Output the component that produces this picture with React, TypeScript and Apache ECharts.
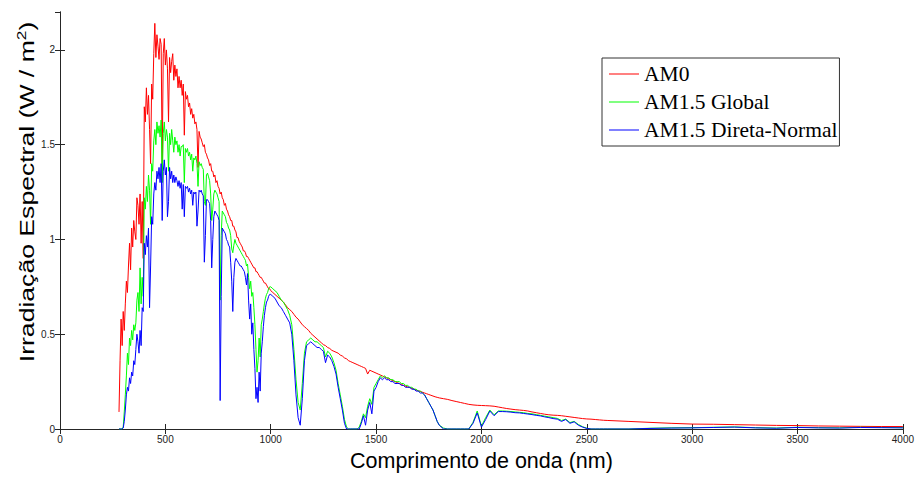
import React, { useEffect, useRef } from "react";
import * as echarts from "echarts";

// Wavelength grid (nm)
const wavelength = [
  280, 285, 290, 295, 300, 305, 310, 315, 320, 325,
  330, 335, 340, 345, 350, 355, 360, 365, 370, 375,
  380, 385, 390, 395, 400, 405, 410, 415, 420, 425,
  430, 435, 440, 445, 450, 455, 460, 465, 470, 475,
  480, 485, 490, 495, 500, 505, 510, 515, 520, 525,
  530, 535, 540, 545, 550, 555, 560, 565, 570, 575,
  580, 585, 590, 595, 600, 605, 610, 615, 620, 625,
  630, 635, 640, 645, 650, 655, 660, 665, 670, 675,
  680, 685, 690, 695, 700,
  705, 710, 715, 720, 725, 730, 735, 740, 745, 750,
  755, 760, 765, 770, 775, 780, 785, 790, 795, 800,
  805, 810, 815, 820, 825, 830, 835, 840, 845, 850,
  855, 860, 865, 870, 875, 880, 885, 890, 895, 900,
  905, 910, 915, 920, 925, 930, 935, 940, 945, 950,
  955, 960, 965, 970, 975, 980, 985, 990, 995, 1000,
  1010, 1020, 1030, 1040, 1050, 1060, 1070, 1080, 1090, 1100,
  1110, 1120, 1130, 1140, 1150, 1160, 1170, 1180, 1190, 1200,
  1210, 1220, 1230, 1240, 1250, 1260, 1270, 1280, 1290, 1300,
  1310, 1320, 1330, 1340, 1350, 1360, 1370, 1380, 1390, 1400,
  1410, 1420, 1430, 1440, 1450, 1460, 1470, 1480, 1490, 1500,
  1510, 1520, 1530, 1540, 1550, 1560, 1570, 1580, 1590, 1600,
  1610, 1620, 1630, 1640, 1650, 1660, 1670, 1680, 1690, 1700,
  1710, 1720, 1730, 1740, 1750, 1760, 1770, 1780, 1790, 1800,
  1820, 1840, 1860, 1880, 1900, 1920, 1940, 1960, 1980, 2000,
  2020, 2040, 2060, 2080, 2100, 2120, 2140, 2160, 2180, 2200,
  2220, 2240, 2260, 2280, 2300, 2320, 2340, 2360, 2380, 2400,
  2420, 2440, 2460, 2480, 2500, 2520, 2540, 2560, 2580, 2600,
  2700, 2800, 2900, 3000, 3100, 3200, 3300, 3400, 3500, 3600,
  3700, 3800, 3900, 4000,
];

// AM0 spectral irradiance (W/m²/nm)
const am0 = [
  0.09, 0.36, 0.58, 0.44, 0.62, 0.52, 0.66, 0.78, 0.72, 0.86,
  0.98, 0.84, 1.06, 0.96, 1.10, 1.04, 1.00, 1.22, 1.18, 1.08,
  1.24, 0.98, 1.20, 0.90, 1.70, 1.62, 1.80, 1.66, 1.76, 1.58,
  1.40, 1.82, 1.74, 1.98, 2.14, 1.96, 2.08, 2.02, 1.95, 2.06,
  2.03, 1.40, 1.98, 2.06, 1.92, 2.00, 1.90, 1.62, 1.96, 1.88,
  1.94, 1.98, 1.84, 1.92, 1.86, 1.90, 1.80, 1.86, 1.80, 1.84,
  1.76, 1.82, 1.55, 1.78, 1.74, 1.76, 1.70, 1.72, 1.66, 1.69,
  1.64, 1.66, 1.61, 1.62, 1.58, 1.38, 1.57, 1.54, 1.53, 1.51,
  1.49, 1.50, 1.46, 1.45, 1.43,
  1.42, 1.39, 1.40, 1.36, 1.36, 1.33, 1.34, 1.30, 1.31, 1.28,
  1.27, 1.24, 1.25, 1.22, 1.21, 1.18, 1.19, 1.16, 1.15, 1.13,
  1.12, 1.10, 1.10, 1.07, 1.07, 1.05, 1.04, 1.01, 1.01, 0.99,
  0.98, 0.97, 0.96, 0.94, 0.94, 0.93, 0.91, 0.91, 0.90, 0.89,
  0.88, 0.87, 0.86, 0.85, 0.85, 0.83, 0.83, 0.82, 0.81, 0.80,
  0.80, 0.79, 0.78, 0.77, 0.77, 0.76, 0.75, 0.74, 0.74, 0.73,
  0.72, 0.71, 0.70, 0.69, 0.68, 0.67, 0.655, 0.64, 0.63, 0.62,
  0.605, 0.59, 0.58, 0.565, 0.55, 0.54, 0.53, 0.52, 0.505, 0.495,
  0.485, 0.475, 0.465, 0.455, 0.445, 0.44, 0.43, 0.425, 0.415, 0.41,
  0.405, 0.40, 0.39, 0.385, 0.375, 0.37, 0.36, 0.355, 0.35, 0.345,
  0.34, 0.335, 0.33, 0.325, 0.32, 0.29, 0.31, 0.305, 0.30, 0.295,
  0.29, 0.285, 0.28, 0.275, 0.27, 0.265, 0.26, 0.255, 0.25, 0.245,
  0.24, 0.235, 0.23, 0.226, 0.222, 0.218, 0.214, 0.21, 0.206, 0.202,
  0.198, 0.194, 0.19, 0.186, 0.182, 0.178, 0.174, 0.17, 0.167, 0.164,
  0.160, 0.156, 0.150, 0.145, 0.140, 0.135, 0.130, 0.127, 0.125, 0.124,
  0.123, 0.122, 0.120, 0.116, 0.112, 0.108, 0.105, 0.102, 0.100, 0.098,
  0.095, 0.090, 0.086, 0.082, 0.078, 0.075, 0.073, 0.072, 0.070, 0.067,
  0.064, 0.061, 0.058, 0.055, 0.053, 0.052, 0.050, 0.048, 0.046, 0.045,
  0.040, 0.035, 0.030, 0.026, 0.025, 0.023, 0.021, 0.019, 0.018, 0.016,
  0.015, 0.014, 0.013, 0.013,
];

// AM1.5 Global
const am15Global = [
  0, 0, 0, 0, 0.01, 0.09, 0.18, 0.28, 0.40, 0.34,
  0.48, 0.44, 0.52, 0.47, 0.55, 0.52, 0.56, 0.68, 0.72, 0.62,
  0.85, 0.66, 0.80, 0.70, 1.22, 1.16, 1.28, 1.20, 1.34, 1.26,
  1.08, 1.40, 1.36, 1.52, 1.58, 1.50, 1.62, 1.56, 1.60, 1.54,
  1.63, 1.30, 1.56, 1.62, 1.52, 1.58, 1.54, 1.36, 1.56, 1.50,
  1.58, 1.52, 1.46, 1.54, 1.50, 1.52, 1.46, 1.50, 1.44, 1.49,
  1.49, 1.50, 1.30, 1.48, 1.46, 1.48, 1.44, 1.46, 1.42, 1.45,
  1.36, 1.43, 1.42, 1.44, 1.40, 1.28, 1.41, 1.39, 1.40, 1.38,
  1.37, 1.20, 1.18, 1.34, 1.35,
  1.33, 1.31, 1.24, 1.10, 1.16, 1.24, 1.26, 1.25, 1.24, 1.22,
  1.20, 0.68, 1.02, 1.15, 1.14, 1.13, 1.12, 1.09, 1.08, 1.06,
  1.05, 1.02, 0.95, 0.93, 0.97, 1.00, 0.98, 0.97, 0.96, 0.95,
  0.94, 0.93, 0.92, 0.91, 0.90, 0.89, 0.86, 0.87, 0.80, 0.74,
  0.78, 0.70, 0.72, 0.64, 0.55, 0.42, 0.30, 0.36, 0.48, 0.38,
  0.55, 0.58, 0.62, 0.66, 0.69, 0.71, 0.72, 0.74, 0.75, 0.75,
  0.74, 0.73, 0.72, 0.70, 0.68, 0.67, 0.65, 0.63, 0.60, 0.55,
  0.42, 0.26, 0.14, 0.10, 0.24, 0.40, 0.46, 0.47, 0.48, 0.47,
  0.46, 0.46, 0.45, 0.44, 0.43, 0.38, 0.41, 0.40, 0.38, 0.35,
  0.31, 0.24, 0.18, 0.12, 0.05, 0.01, 0, 0, 0, 0,
  0, 0.01, 0.04, 0.08, 0.06, 0.12, 0.16, 0.13, 0.22, 0.24,
  0.26, 0.28, 0.27, 0.28, 0.27, 0.27, 0.26, 0.26, 0.25, 0.25,
  0.25, 0.24, 0.24, 0.23, 0.23, 0.22, 0.22, 0.21, 0.21, 0.20,
  0.20, 0.19, 0.18, 0.16, 0.14, 0.12, 0.10, 0.07, 0.04, 0.02,
  0.005, 0, 0, 0, 0, 0, 0, 0.035, 0.095, 0.015,
  0.06, 0.10, 0.075, 0.095, 0.095, 0.094, 0.092, 0.090, 0.088, 0.086,
  0.082, 0.080, 0.076, 0.072, 0.068, 0.064, 0.060, 0.056, 0.045, 0.052,
  0.034, 0.040, 0.024, 0.012, 0.004, 0, 0, 0, 0, 0,
  0, 0.004, 0.006, 0.007, 0.009, 0.011, 0.007, 0.005, 0.009, 0.007,
  0.006, 0.009, 0.008, 0.007,
];

// AM1.5 Direct-Normal
const am15Direct = [
  0, 0, 0, 0, 0.005, 0.04, 0.10, 0.18, 0.22, 0.20,
  0.27, 0.24, 0.30, 0.28, 0.36, 0.34, 0.42, 0.50, 0.46, 0.40,
  0.52, 0.44, 0.64, 0.62, 0.98, 0.92, 1.02, 0.96, 1.06, 0.64,
  0.86, 1.12, 1.08, 1.24, 1.30, 1.26, 1.36, 1.32, 1.38, 1.30,
  1.40, 1.10, 1.36, 1.42, 1.34, 1.38, 1.12, 1.20, 1.38, 1.32,
  1.36, 1.30, 1.34, 1.30, 1.33, 1.31, 1.28, 1.31, 1.27, 1.30,
  1.16, 1.29, 1.12, 1.28, 1.27, 1.28, 1.25, 1.27, 1.24, 1.26,
  1.18, 1.25, 1.24, 1.25, 1.07, 1.15, 1.26, 1.25, 1.26, 1.24,
  1.23, 0.88, 1.02, 1.21, 1.21,
  1.20, 1.19, 1.10, 0.85, 1.00, 1.12, 1.15, 1.14, 1.13, 1.12,
  1.10, 0.15, 0.70, 1.06, 1.05, 1.04, 1.03, 1.00, 0.99, 0.97,
  0.96, 0.88, 0.78, 0.62, 0.80, 0.88, 0.90, 0.89, 0.88, 0.87,
  0.86, 0.86, 0.85, 0.84, 0.83, 0.80, 0.76, 0.82, 0.68, 0.58,
  0.66, 0.50, 0.56, 0.42, 0.32, 0.16, 0.22, 0.14, 0.30, 0.20,
  0.40, 0.46, 0.54, 0.60, 0.64, 0.67, 0.68, 0.70, 0.71, 0.71,
  0.70, 0.69, 0.67, 0.65, 0.64, 0.62, 0.60, 0.58, 0.56, 0.50,
  0.36, 0.18, 0.06, 0.02, 0.16, 0.36, 0.44, 0.45, 0.46, 0.45,
  0.44, 0.43, 0.43, 0.42, 0.41, 0.35, 0.39, 0.38, 0.36, 0.33,
  0.29, 0.22, 0.16, 0.10, 0.03, 0, 0, 0, 0, 0,
  0, 0, 0.03, 0.07, 0.02, 0.10, 0.14, 0.08, 0.20, 0.22,
  0.25, 0.27, 0.26, 0.27, 0.26, 0.26, 0.25, 0.25, 0.24, 0.24,
  0.24, 0.23, 0.23, 0.22, 0.22, 0.22, 0.21, 0.21, 0.20, 0.20,
  0.19, 0.19, 0.18, 0.16, 0.14, 0.12, 0.10, 0.07, 0.04, 0.02,
  0, 0, 0, 0, 0, 0, 0, 0.03, 0.085, 0.01,
  0.05, 0.095, 0.07, 0.092, 0.092, 0.091, 0.089, 0.086, 0.085, 0.082,
  0.079, 0.076, 0.072, 0.069, 0.064, 0.060, 0.055, 0.052, 0.040, 0.050,
  0.030, 0.038, 0.020, 0.010, 0.003, 0, 0, 0, 0, 0,
  0, 0.003, 0.005, 0.006, 0.008, 0.010, 0.006, 0.004, 0.008, 0.006,
  0.005, 0.008, 0.007, 0.006,
];

const seriesNames = ["AM0", "AM1.5 Global", "AM1.5 Direta-Normal"];
const seriesColors = ["#ff0000", "#00ff00", "#0000ff"];
const xTitle = "Comprimento de onda (nm)";

const pairs = (vals: number[]) => wavelength.map((w, i) => [w, vals[i]]);

export default function App() {
  const ref = useRef<HTMLDivElement>(null);
  useEffect(() => {
    if (!ref.current) return;
    const chart = echarts.init(ref.current, undefined, { renderer: "svg" });
    const axisColor = "#262626";
    const labelFont = "'Liberation Sans', Arial, sans-serif";
    const baseX = {
      type: "value",
      min: 0,
      max: 4000,
      interval: 500,
      splitLine: { show: false },
      axisLine: { show: true, lineStyle: { color: axisColor, width: 1 } },
      axisTick: { show: true, inside: true, length: 5, lineStyle: { color: axisColor } },
    };
    const baseY = {
      type: "value",
      min: 0,
      max: 2.2,
      interval: 0.5,
      splitLine: { show: false },
      axisLine: { show: true, lineStyle: { color: axisColor, width: 1 } },
      axisTick: { show: true, inside: true, length: 5, lineStyle: { color: axisColor } },
    };
    const data = [am0, am15Global, am15Direct];
    chart.setOption({
      animation: false,
      backgroundColor: "#ffffff",
      grid: { left: 60, right: 12, top: 12, bottom: 40 },
      xAxis: [
        {
          ...baseX,
          position: "bottom",
          axisLabel: {
            color: "#222",
            fontSize: 10,
            margin: 5,
            fontFamily: labelFont,
            formatter: (v: number) => String(v),
          },
          name: xTitle,
          nameLocation: "middle",
          nameGap: 21,
          nameTextStyle: { fontSize: 21.5, color: "#000", fontFamily: labelFont },
        },
        { ...baseX, position: "top", axisLabel: { show: false } },
      ],
      yAxis: [
        {
          ...baseY,
          position: "left",
          axisLabel: {
            color: "#222",
            fontSize: 10,
            margin: 5,
            fontFamily: labelFont,
            showMaxLabel: false,
            formatter: (v: number) => String(v),
          },
        },
        { ...baseY, position: "right", axisLabel: { show: false } },
      ],
      legend: {
        data: seriesNames,
        orient: "vertical",
        left: 602,
        top: 58,
        backgroundColor: "#ffffff",
        borderColor: "#333",
        borderWidth: 1,
        borderRadius: 0,
        padding: [5, 2, 5, 7],
        itemGap: 6,
        itemWidth: 30,
        itemHeight: 1,
        icon: "rect",
        textStyle: {
          fontFamily: "'Liberation Serif', 'Times New Roman', serif",
          fontSize: 21.5,
          lineHeight: 21,
          color: "#000",
        },
      },
      graphic: [
        {
          type: "text",
          x: 27,
          y: 192,
          rotation: Math.PI / 2,
          scaleX: 1.33,
          style: {
            text: "{a|Irradiação Espectral (W / m}{s|2}{a|)}",
            align: "center",
            verticalAlign: "middle",
            fill: "#000",
            rich: {
              a: { fontSize: 20, fontFamily: labelFont, lineHeight: 24, fill: "#000" },
              s: { fontSize: 13, fontFamily: labelFont, lineHeight: 14, verticalAlign: "top", fill: "#000" },
            },
          },
        },
      ],
      series: data.map((vals, i) => ({
        type: "line",
        name: seriesNames[i],
        xAxisIndex: 0,
        yAxisIndex: 0,
        data: pairs(vals),
        symbol: "none",
        showSymbol: false,
        silent: true,
        lineStyle: { width: 1, color: seriesColors[i] },
        itemStyle: { color: seriesColors[i] },
        z: 2 + i,
      })),
    });
    return () => chart.dispose();
  }, []);
  return (
    <div
      ref={ref}
      style={{ position: "fixed", left: 0, top: 0, width: 917, height: 477, background: "#fff" }}
    />
  );
}
